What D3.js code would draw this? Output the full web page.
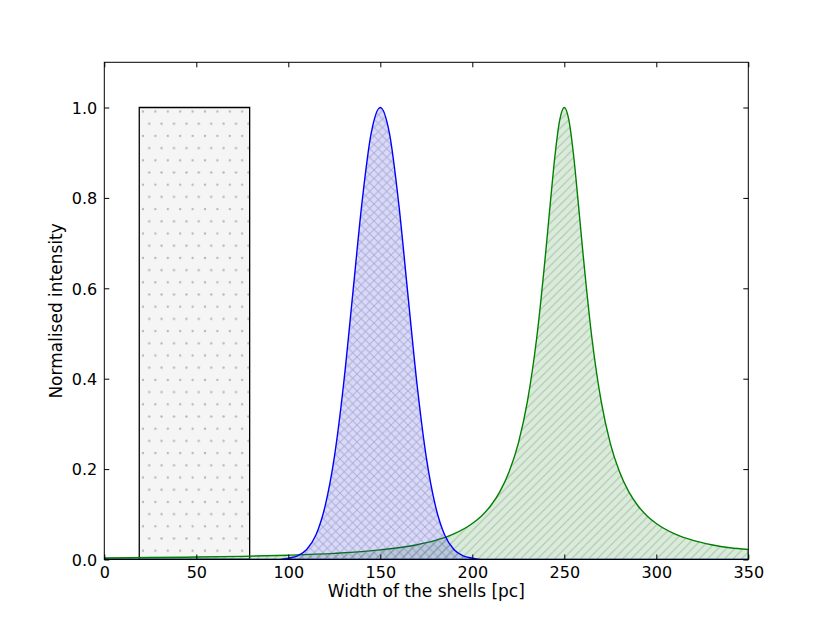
<!DOCTYPE html>
<html>
<head>
<meta charset="utf-8">
<script src="https://cdn.jsdelivr.net/npm/d3@7"></script>
<style>
  body { margin: 0; background: #fff; }
  svg text { font-family: "DejaVu Sans", sans-serif; fill: #000; }
</style>
</head>
<body>
<svg id="chart" width="830" height="623"></svg>
<script>
// box profile (top hat)
const boxX = [19, 19, 79, 79];
const boxY = [0, 1.0, 1.0, 0];

// blue profile
const blueX = [0, 95, 100, 105, 110, 115, 120, 125, 130, 135, 140, 145, 150,
               155, 160, 165, 170, 175, 180, 185, 190, 195, 200, 205, 350];
const blueY = [0, 0.0, 0.003, 0.008, 0.022, 0.054, 0.118, 0.226, 0.386, 0.586, 0.788, 0.942, 1.0,
               0.942, 0.788, 0.586, 0.386, 0.226, 0.118, 0.054, 0.022, 0.008, 0.003, 0.0, 0];

// green profile
const greenX = [0, 25, 50, 75, 100, 125, 150, 170, 180, 190, 200, 205, 210, 215, 220, 225,
                230, 235, 240, 242.5, 245, 247.5, 250, 252.5, 255, 257.5, 260, 265, 270, 275,
                280, 285, 290, 295, 300, 310, 320, 330, 340, 350];
const greenY = [0.0034, 0.0043, 0.0054, 0.007, 0.0095, 0.0136, 0.0212, 0.0327, 0.0422, 0.0566,
                0.0796, 0.0964, 0.119, 0.150, 0.194, 0.257, 0.351, 0.490, 0.684, 0.793, 0.896,
                0.972, 1.0, 0.972, 0.896, 0.793, 0.684, 0.490, 0.351, 0.257, 0.194, 0.150, 0.119,
                0.0964, 0.0796, 0.0566, 0.0422, 0.0327, 0.026, 0.022];

const xTicks = [0, 50, 100, 150, 200, 250, 300, 350];
const yTicks = [0.0, 0.2, 0.4, 0.6, 0.8, 1.0];

const margin = {left: 104.3, right: 81.7, top: 62.3, bottom: 63.5};
const W = 830, H = 623;
const svg = d3.select('#chart');

const x = d3.scaleLinear().domain([0, 350]).range([margin.left, W - margin.right]);
const y = d3.scaleLinear().domain([0, 1.1]).range([H - margin.bottom, margin.top]);

const defs = svg.append('defs');
// dots hatch
const dots = defs.append('pattern')
    .attr('id', 'dots').attr('patternUnits', 'userSpaceOnUse')
    .attr('width', 12.4).attr('height', 24.4)
    .attr('x', 143).attr('y', 111.5);
[[0, 0], [12.4, 0], [0, 24.4], [12.4, 24.4], [6.2, 12.2]].forEach(function(p){
    dots.append('circle').attr('cx', p[0]).attr('cy', p[1]).attr('r', 1.2).attr('fill', '#b8b8b8');
});

// cross hatch
const hs = 8.5;
const cross = defs.append('pattern')
    .attr('id', 'cross').attr('patternUnits', 'userSpaceOnUse')
    .attr('width', hs).attr('height', hs);
cross.append('path')
    .attr('d', `M0,0L${hs},${hs}M${hs},0L0,${hs}`)
    .attr('stroke', '#606060').attr('stroke-opacity', 0.35).attr('stroke-width', 1).attr('fill', 'none');

// diagonal hatch
const diag = defs.append('pattern')
    .attr('id', 'diag').attr('patternUnits', 'userSpaceOnUse')
    .attr('width', hs).attr('height', hs);
diag.append('path')
    .attr('d', `M0,${hs}L${hs},0M${-hs/2},${hs/2}L${hs/2},${-hs/2}M${hs/2},${hs*1.5}L${hs*1.5},${hs/2}`)
    .attr('stroke', '#606060').attr('stroke-opacity', 0.35).attr('stroke-width', 1).attr('fill', 'none');

defs.append('clipPath').attr('id', 'clip')
  .append('rect')
    .attr('x', margin.left).attr('y', margin.top)
    .attr('width', W - margin.left - margin.right)
    .attr('height', H - margin.top - margin.bottom);

const plot = svg.append('g').attr('clip-path', 'url(#clip)');

// box
const boxPts = boxX.map((d, i) => [x(d), y(boxY[i])]);
plot.append('polygon').attr('points', boxPts.join(' ')).attr('fill', '#f5f5f5');
plot.append('polygon').attr('points', boxPts.join(' '))
    .attr('fill', 'url(#dots)').attr('stroke', '#000').attr('stroke-width', 1.3);

const area = d3.area()
    .x(d => x(d[0])).y0(y(0)).y1(d => y(d[1]))
    .curve(d3.curveMonotoneX);

const greenData = greenX.map((d, i) => [d, greenY[i]]);
const blueData = blueX.map((d, i) => [d, blueY[i]]);

plot.append('path').datum(greenData).attr('d', area)
    .attr('fill', '#008000').attr('fill-opacity', 0.15);
plot.append('path').datum(greenData).attr('d', area)
    .attr('fill', 'url(#diag)').attr('stroke', '#008000').attr('stroke-width', 1.4);

plot.append('path').datum(blueData).attr('d', area)
    .attr('fill', '#0000ff').attr('fill-opacity', 0.15);
plot.append('path').datum(blueData).attr('d', area)
    .attr('fill', 'url(#cross)').attr('stroke', '#0000ff').attr('stroke-width', 1.4);

// frame
svg.append('rect')
    .attr('x', margin.left).attr('y', margin.top)
    .attr('width', W - margin.left - margin.right)
    .attr('height', H - margin.top - margin.bottom)
    .attr('fill', 'none').attr('stroke', '#000').attr('stroke-width', 1);

// axes, ticks pointing inward
const tl = 5;
const bottomAx = svg.append('g').attr('transform', `translate(0,${y(0)})`)
    .call(d3.axisBottom(x).tickValues(xTicks).tickSize(-tl).tickFormat(d3.format('d')));
const topAx = svg.append('g').attr('transform', `translate(0,${y(1.1)})`)
    .call(d3.axisTop(x).tickValues(xTicks).tickSize(-tl).tickFormat(''));
const leftAx = svg.append('g').attr('transform', `translate(${x(0)},0)`)
    .call(d3.axisLeft(y).tickValues(yTicks).tickSize(-tl).tickFormat(d3.format('.1f')));
const rightAx = svg.append('g').attr('transform', `translate(${x(350)},0)`)
    .call(d3.axisRight(y).tickValues(yTicks).tickSize(-tl).tickFormat(''));

[bottomAx, topAx, leftAx, rightAx].forEach(function(g){
    g.select('.domain').remove();
    g.selectAll('.tick line').attr('stroke', '#000');
    g.selectAll('.tick text').style('font-size', '16px').style('font-family', '"DejaVu Sans", sans-serif');
});
// place tick labels like the reference
bottomAx.selectAll('.tick text').attr('y', 18).attr('dy', null);
leftAx.selectAll('.tick text').attr('x', -7).attr('dy', '0.36em');

svg.append('text')
    .attr('x', (x(0) + x(350)) / 2).attr('y', 597)
    .attr('text-anchor', 'middle').style('font-size', '17px')
    .text('Width of the shells [pc]');

svg.append('text')
    .attr('transform', `translate(62,${(y(0) + y(1.1)) / 2}) rotate(-90)`)
    .attr('text-anchor', 'middle').style('font-size', '17px')
    .text('Normalised intensity');
</script>
</body>
</html>
